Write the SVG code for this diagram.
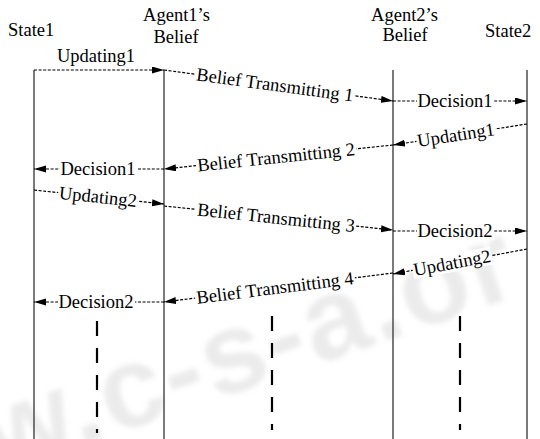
<svg xmlns="http://www.w3.org/2000/svg" width="540" height="439" viewBox="0 0 540 439">
<defs>
<style>
.t{font-family:"Liberation Serif","Times New Roman",serif;font-size:18.5px;fill:#000}
.m{text-anchor:middle}
.life{stroke:#333;stroke-width:1.3;fill:none}
.act{stroke:#000;stroke-width:2.2;stroke-dasharray:15 12;fill:none}
.msg{stroke:#000;stroke-width:1.2;stroke-dasharray:3 1.6;fill:none;marker-end:url(#ah)}
.bg{fill:#fff}
.wm{font-family:"Liberation Sans",Arial,sans-serif;font-size:115px;font-weight:bold;fill:#9a9a9a;opacity:0.2}
</style>
<marker id="ah" markerUnits="userSpaceOnUse" markerWidth="13" markerHeight="8" refX="12" refY="3.5" orient="auto">
<path d="M0,0 L12,3.5 L0,7 z" fill="#000"/>
</marker>
<filter id="blur" x="-10%" y="-30%" width="120%" height="160%"><feGaussianBlur stdDeviation="2.5"/></filter>
</defs>
<rect width="540" height="439" fill="#fff"/>
<g id="watermark" transform="translate(137,395) rotate(-19)" filter="url(#blur)">
<text class="wm" x="-158.8" y="30" letter-spacing="2.7">w.c-s-a.or</text>
</g>
<g id="state1">
<text class="t" x="8" y="36">State1</text>
<line class="life" x1="34" y1="70" x2="34" y2="439"/>
</g>
<g id="agent1">
<text class="t m" x="176.5" y="21">Agent1’s</text>
<text class="t m" x="176" y="42.5">Belief</text>
<line class="life" x1="164" y1="70" x2="164" y2="439"/>
</g>
<g id="agent2">
<text class="t m" x="404.5" y="20.5">Agent2’s</text>
<text class="t m" x="405" y="41">Belief</text>
<line class="life" x1="393" y1="70" x2="393" y2="439"/>
</g>
<g id="state2">
<text class="t" x="485" y="36.5">State2</text>
<line class="life" x1="527" y1="70" x2="527" y2="439"/>
</g>
<g id="activations">
<line class="act" x1="97" y1="321" x2="97" y2="433"/>
<line class="act" x1="272" y1="316" x2="272" y2="430"/>
<line class="act" x1="460" y1="316" x2="460" y2="430"/>
</g>
<g id="connectors">
<path class="msg" d="M34,70 L164,70"/>
<text class="t m" x="96" y="62">Updating1</text>

<path class="msg" d="M164,70 L393,101"/>
<g transform="translate(275,85) rotate(7.7)"><rect class="bg" x="-80.5" y="-9" width="161" height="18"/><text class="t m" x="0" y="6">Belief Transmitting 1</text></g>

<path class="msg" d="M393,101 L527,101"/>
<rect class="bg" x="417" y="93" width="77" height="17"/><text class="t m" x="455" y="107">Decision1</text>

<path class="msg" d="M527,124 L393,145"/>
<g transform="translate(456,135.1) rotate(-8.9)"><rect class="bg" x="-40" y="-9" width="80" height="18"/><text class="t m" x="0" y="6">Updating1</text></g>

<path class="msg" d="M393,145 L164,169"/>
<g transform="translate(276,157.3) rotate(-6)"><rect class="bg" x="-80.5" y="-9" width="161" height="18"/><text class="t m" x="0" y="6">Belief Transmitting 2</text></g>

<path class="msg" d="M164,169 L34,169"/>
<rect class="bg" x="60" y="161" width="77" height="17"/><text class="t m" x="98" y="175">Decision1</text>

<path class="msg" d="M34,190 L164,204"/>
<g transform="translate(98,196.9) rotate(6.1)"><rect class="bg" x="-40" y="-9" width="80" height="18"/><text class="t m" x="0" y="6">Updating2</text></g>

<path class="msg" d="M164,206 L393,230"/>
<g transform="translate(276,217.7) rotate(6)"><rect class="bg" x="-80.5" y="-9" width="161" height="18"/><text class="t m" x="0" y="6">Belief Transmitting 3</text></g>

<path class="msg" d="M393,231 L527,231"/>
<rect class="bg" x="417" y="223" width="77" height="17"/><text class="t m" x="455" y="237">Decision2</text>

<path class="msg" d="M527,249 L393,274"/>
<g transform="translate(452,263) rotate(-10.6)"><rect class="bg" x="-40" y="-9" width="80" height="18"/><text class="t m" x="0" y="6">Updating2</text></g>

<path class="msg" d="M393,273 L164,302"/>
<g transform="translate(275,288) rotate(-7.2)"><rect class="bg" x="-80.5" y="-9" width="161" height="18"/><text class="t m" x="0" y="6">Belief Transmitting 4</text></g>

<path class="msg" d="M164,302 L34,302"/>
<rect class="bg" x="58" y="294" width="77" height="17"/><text class="t m" x="96" y="308">Decision2</text>
</g>
</svg>
